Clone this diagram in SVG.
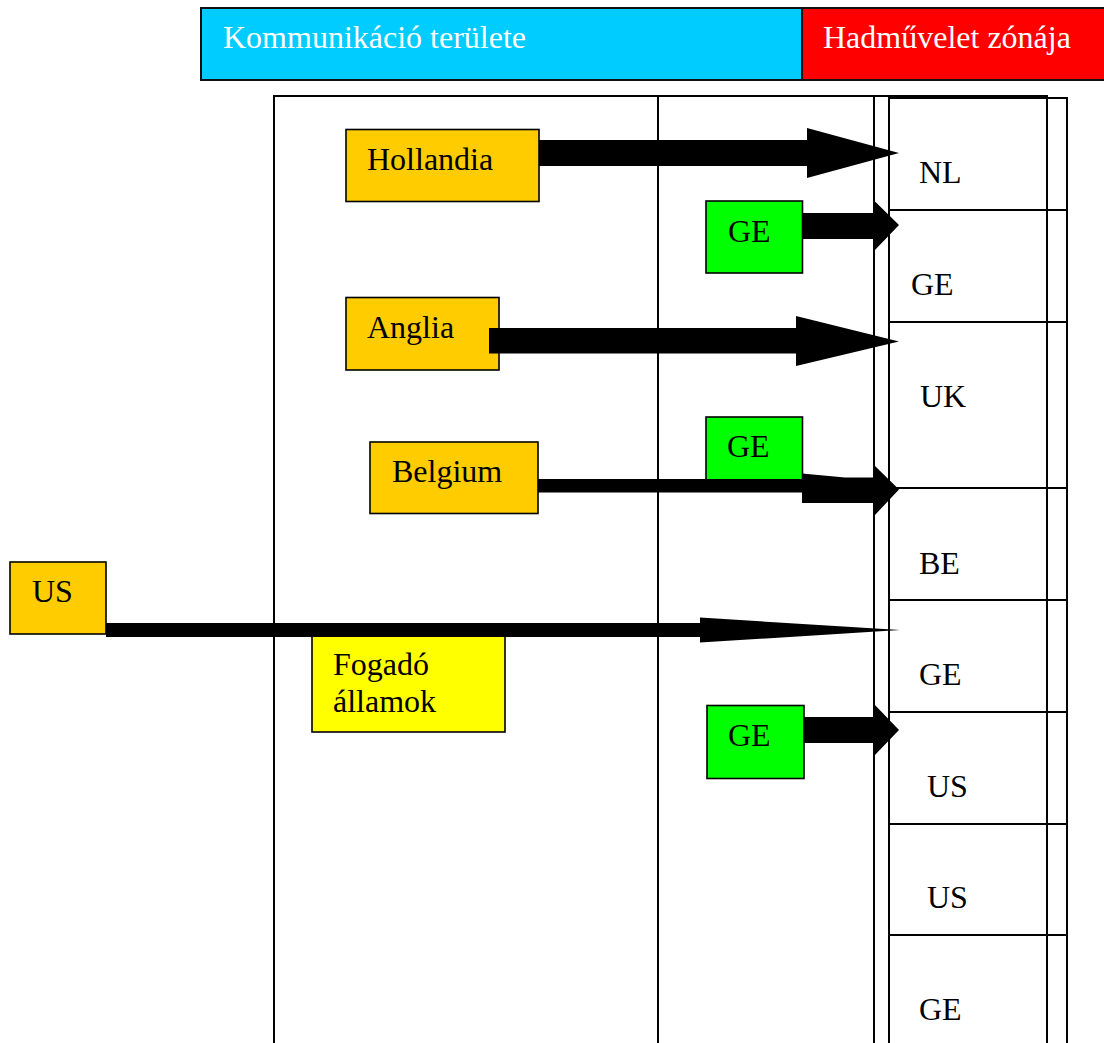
<svg xmlns="http://www.w3.org/2000/svg" width="1104" height="1043" viewBox="0 0 1104 1043">
  <style>
    text { font-family: "Liberation Serif", "Times New Roman", serif; font-size: 32px; fill: #000; }
    .hdr text { fill: #fff; }
    .box { stroke: #000; stroke-width: 1.6; }
    .orange { fill: #FFCC00; }
    .green { fill: #00FF00; }
    .yellow { fill: #FFFF00; }
    .grid { stroke: #000; stroke-width: 2; fill: none; }
    .arrow { fill: #000; stroke: none; }
  </style>
  <rect width="1104" height="1043" fill="#fff"/>

  <!-- header bands -->
  <g id="hdr-comm" class="hdr">
    <rect x="201" y="8" width="601" height="72" fill="#00CCFF" stroke="#111" stroke-width="2"/>
    <text x="223" y="48">Kommunikáció területe</text>
  </g>
  <g id="hdr-ops" class="hdr">
    <rect x="802" y="8" width="310" height="72" fill="#FF0000" stroke="#111" stroke-width="2"/>
    <text x="823" y="48">Hadművelet zónája</text>
  </g>

  <!-- table frame -->
  <g id="frame" class="grid">
    <line x1="274" y1="96" x2="1047" y2="96"/>
    <line x1="889" y1="98" x2="1067" y2="98"/>
    <line x1="274" y1="95" x2="274" y2="1043"/>
    <line x1="658" y1="95" x2="658" y2="1043"/>
    <line x1="874" y1="95" x2="874" y2="1043"/>
    <line x1="889" y1="97" x2="889" y2="1043"/>
    <line x1="1047" y1="95" x2="1047" y2="1043"/>
    <line x1="1067" y1="97" x2="1067" y2="1043"/>
    <line x1="889" y1="210" x2="1067" y2="210"/>
    <line x1="889" y1="322" x2="1067" y2="322"/>
    <line x1="889" y1="488" x2="1067" y2="488"/>
    <line x1="889" y1="600" x2="1067" y2="600"/>
    <line x1="889" y1="712" x2="1067" y2="712"/>
    <line x1="889" y1="824" x2="1067" y2="824"/>
    <line x1="889" y1="935" x2="1067" y2="935"/>
  </g>

  <!-- zone cells -->
  <g id="cell-nl"><text x="919" y="183">NL</text></g>
  <g id="cell-ge1"><text x="911" y="295">GE</text></g>
  <g id="cell-uk"><text x="920" y="407">UK</text></g>
  <g id="cell-be"><text x="919" y="574">BE</text></g>
  <g id="cell-ge2"><text x="919" y="685">GE</text></g>
  <g id="cell-us1"><text x="927" y="797">US</text></g>
  <g id="cell-us2"><text x="927" y="908">US</text></g>
  <g id="cell-ge3"><text x="919" y="1020">GE</text></g>

  <!-- nations -->
  <g id="hollandia">
    <rect class="box orange" x="346" y="129.5" width="193" height="72"/>
    <text x="367" y="170">Hollandia</text>
  </g>
  <g id="anglia">
    <rect class="box orange" x="346" y="297.5" width="153" height="72.5"/>
    <text x="367" y="338">Anglia</text>
  </g>
  <g id="belgium">
    <rect class="box orange" x="370" y="442" width="168" height="71.5"/>
    <text x="392" y="482">Belgium</text>
  </g>
  <g id="us-src">
    <rect class="box orange" x="10" y="562" width="96" height="72"/>
    <text x="32" y="602">US</text>
  </g>
  <g id="fogado">
    <rect class="box yellow" x="312" y="636" width="193" height="96"/>
    <text x="333" y="675">Fogadó</text>
    <text x="333" y="712">államok</text>
  </g>
  <g id="ge-a">
    <rect class="box green" x="706" y="201" width="96.5" height="72"/>
    <text x="728" y="242">GE</text>
  </g>
  <g id="ge-b">
    <rect class="box green" x="706" y="417" width="96.5" height="63"/>
    <text x="727" y="457">GE</text>
  </g>
  <g id="ge-c">
    <rect class="box green" x="707" y="705.5" width="97" height="73"/>
    <text x="728" y="746">GE</text>
  </g>

  <!-- connectors -->
  <g id="connectors" class="arrow">
    <polygon points="539,140 807,140 807,128 899,153 807,178 807,166 539,166"/>
    <polygon points="802,213 874,213 874,200.5 899,225 874,251 874,239 802,239"/>
    <polygon points="489,328 796,328 796,316 899,341.5 796,366 796,353.5 489,353.5"/>
    <polygon points="538,479 803,479 803,492.5 538,492.5"/>
    <polygon points="802,473.5 845,477.5 875,477.5 875,466 899,489.5 875,515 875,503 802,503"/>
    <polygon points="106,623 700,623 700,617.5 900,630 700,642.5 700,637 106,637"/>
    <polygon points="804,717 874,717 874,704 899,730 874,756 874,743 804,743"/>
  </g>
</svg>
